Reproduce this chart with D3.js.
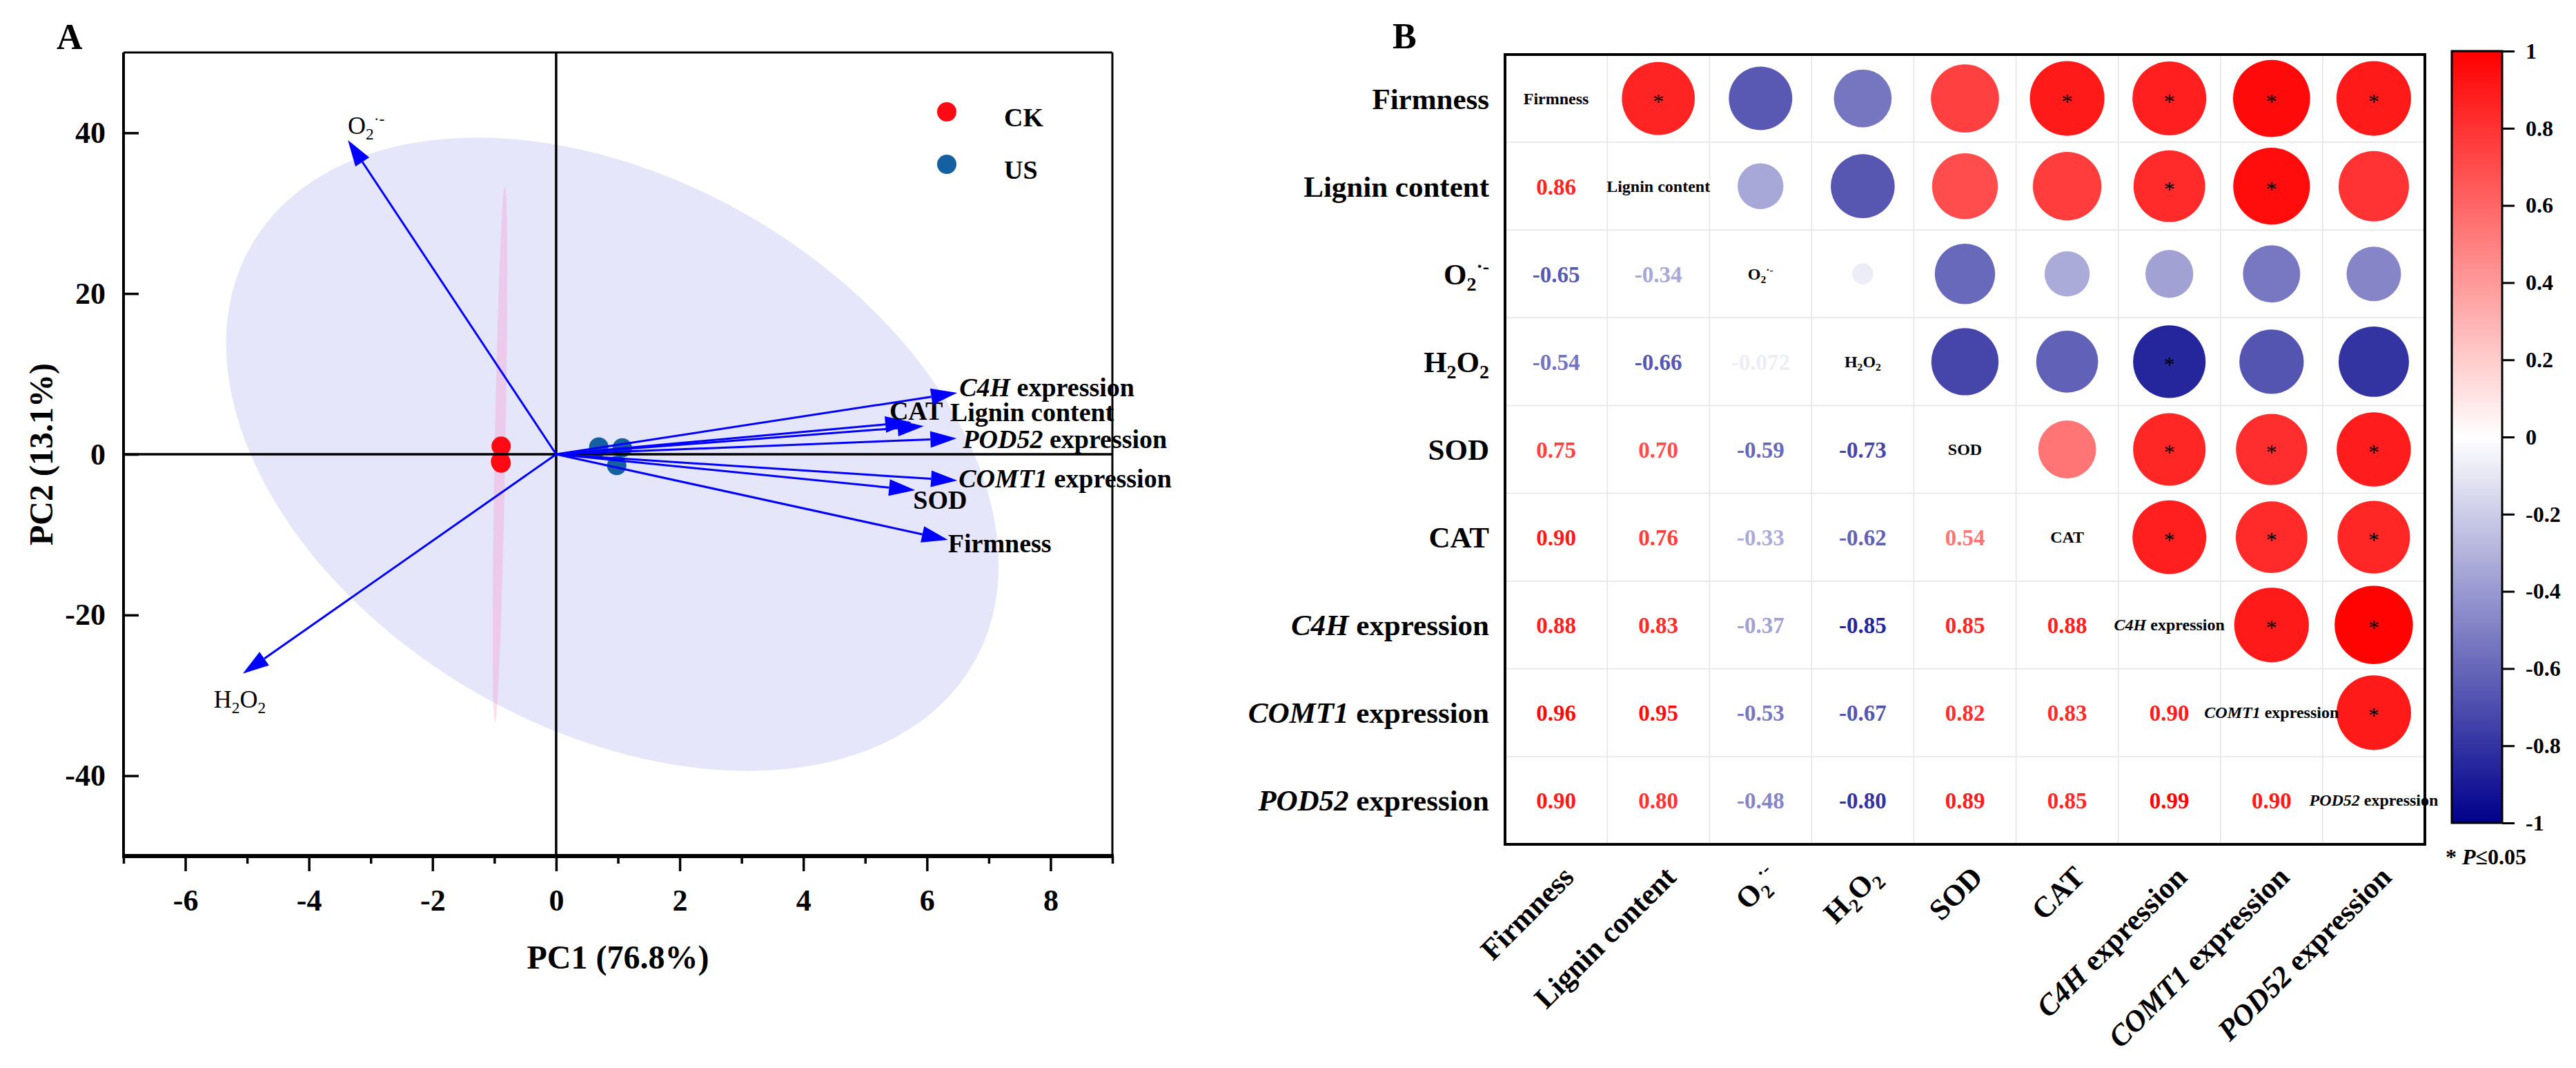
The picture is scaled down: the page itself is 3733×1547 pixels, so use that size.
<!DOCTYPE html>
<html lang="en">
<head>
<meta charset="UTF-8">
<title>PCA biplot and correlation matrix</title>
<script src="https://d3js.org/d3.v7.min.js"></script>
<style>
  body { margin: 0; background: #fff; }
  svg text { font-family: "Liberation Serif", "Times New Roman", serif; font-weight: bold; fill: #000; }
</style>
</head>
<body>
<svg id="chart" width="3733" height="1547"></svg>
<script>
// ---------- Panel A data (PCA) ----------
const groups = ["CK", "US"];
const ckScores = [[-0.89, 1.0], [-0.89, -1.1], [-0.90, -0.9]];
const usScores = [[0.69, 0.9], [1.07, 0.8], [0.98, -1.4]];

const loadingNames = ["Firmness", "Lignin content", "O2", "H2O2", "SOD", "CAT", "C4H", "COMT1", "POD52"];
const loadingPC1 = [6.34, 5.95, -3.37, -5.07, 5.81, 5.75, 6.49, 6.49, 6.48];
const loadingPC2 = [-10.66, 3.5, 39.1, -27.3, -4.47, 4.0, 7.65, -3.27, 1.98];

// confidence ellipses: centre, half extents and correlation
const usEllipse = { cx: 0.91, cy: 0, sx: 6.25, sy: 39.4, rho: -0.35 };
const ckEllipse = { cx: -0.91, cy: 0, sx: 0.117, sy: 33.3, rho: 0.68 };

const xMajor = [-6, -4, -2, 0, 2, 4, 6, 8];
const xMinor = [-7, -5, -3, -1, 1, 3, 5, 7, 9];
const yMajor = [-40, -20, 0, 20, 40];

// ---------- Panel B data (correlations) ----------
const variables = ["Firmness", "Lignin content", "O2", "H2O2", "SOD", "CAT", "C4H", "COMT1", "POD52"];
const corrLower = [
  [],
  [0.86],
  [-0.65, -0.34],
  [-0.54, -0.66, -0.072],
  [0.75, 0.70, -0.59, -0.73],
  [0.90, 0.76, -0.33, -0.62, 0.54],
  [0.88, 0.83, -0.37, -0.85, 0.85, 0.88],
  [0.96, 0.95, -0.53, -0.67, 0.82, 0.83, 0.90],
  [0.90, 0.80, -0.48, -0.80, 0.89, 0.85, 0.99, 0.90]
];
// significant pairs (row, column) in the upper triangle
const significant = [[0,1],[0,5],[0,6],[0,7],[0,8],[1,6],[1,7],[3,6],[4,6],[4,7],[4,8],[5,6],[5,7],[5,8],[6,7],[6,8],[7,8]];
const legendTicks = [1, 0.8, 0.6, 0.4, 0.2, 0, -0.2, -0.4, -0.6, -0.8, -1];

// ---------- styles / layout ----------
const groupColors = { CK: "#ff0a14", US: "#1460a0" };
const arrowColor = "#0000ff";
const labelNudge = {
  "Firmness": [0, 18], "Lignin content": [38, -7], "O2": [0, -9], "H2O2": [-42, 49],
  "SOD": [-3, 27], "CAT": [-32, -3], "C4H": [3, 5], "COMT1": [2, 10], "POD52": [9, 14]
};
const labelParts = {
  "O2": [["O"], ["2", "sub"], ["\u00b7-", "sup"]],
  "H2O2": [["H"], ["2", "sub"], ["O"], ["2", "sub"]],
  "C4H": [["C4H", "i"], [" expression"]],
  "COMT1": [["COMT1", "i"], [" expression"]],
  "POD52": [["POD52", "i"], [" expression"]]
};

// writes a label with italics / sub / superscripts into a text element
function rich(textSel, key, size) {
  const parts = labelParts[key] || [[key]];
  let shift = 0;
  parts.forEach(([t, kind]) => {
    const ts = textSel.append("tspan").text(t);
    let target = 0;
    if (kind === "sub") { ts.attr("font-size", size * 0.65); target = size * 0.22; }
    if (kind === "sup") { ts.attr("font-size", size * 0.65); target = -size * 0.38; }
    if (kind === "i") ts.attr("font-style", "italic");
    ts.attr("dy", target - shift);
    shift = target;
  });
}

const svg = d3.select("#chart");

// =====================  Panel A  =====================
const A = { left: 179, right: 1612, top: 76, bottom: 1240 };
const x = d3.scaleLinear().domain([-7, 9]).range([A.left, A.right]);
const y = d3.scaleLinear().domain([-50, 50]).range([A.bottom, A.top]);

function ellipsePoints(e) {
  const k = Math.sqrt(1 - e.rho * e.rho);
  return d3.range(0, 360, 2).map(deg => {
    const t = deg * Math.PI / 180;
    return [e.cx + e.sx * Math.cos(t), e.cy + e.sy * (e.rho * Math.cos(t) + k * Math.sin(t))];
  });
}
const ellLine = d3.line().x(d => x(d[0])).y(d => y(d[1])).curve(d3.curveLinearClosed);

const gA = svg.append("g");
gA.append("path").attr("d", ellLine(ellipsePoints(usEllipse))).attr("fill", "#e6e6fa");
gA.append("path").attr("d", ellLine(ellipsePoints(ckEllipse))).attr("fill", "#ff5ab4").attr("fill-opacity", 0.2);

// sample scores
gA.selectAll(".ck").data(ckScores).join("circle")
  .attr("cx", d => x(d[0])).attr("cy", d => y(d[1])).attr("r", 14).attr("fill", groupColors.CK);
gA.selectAll(".us").data(usScores).join("circle")
  .attr("cx", d => x(d[0])).attr("cy", d => y(d[1])).attr("r", 14).attr("fill", groupColors.US);

// zero lines
gA.append("line").attr("x1", x(0)).attr("x2", x(0)).attr("y1", A.top).attr("y2", A.bottom)
  .attr("stroke", "#000").attr("stroke-width", 3.5);
gA.append("line").attr("x1", A.left).attr("x2", A.right).attr("y1", y(0)).attr("y2", y(0))
  .attr("stroke", "#000").attr("stroke-width", 3.5);

// loading arrows
loadingNames.forEach((name, i) => {
  const x0 = x(0), y0 = y(0), x1 = x(loadingPC1[i]), y1 = y(loadingPC2[i]);
  const ang = Math.atan2(y1 - y0, x1 - x0);
  const hl = 38, hw = 12;
  const bx0 = x1 - hl * Math.cos(ang), by0 = y1 - hl * Math.sin(ang);
  gA.append("line").attr("x1", x0).attr("y1", y0).attr("x2", bx0).attr("y2", by0)
    .attr("stroke", arrowColor).attr("stroke-width", 3);
  const pts = [[x1, y1],
    [bx0 + hw * Math.sin(ang), by0 - hw * Math.cos(ang)],
    [bx0 - hw * Math.sin(ang), by0 + hw * Math.cos(ang)]];
  gA.append("polygon").attr("points", pts.map(p => p.join(",")).join(" ")).attr("fill", arrowColor);

  const nd = labelNudge[name];
  const small = name === "O2" || name === "H2O2";
  const size = small ? 36 : 38;
  const t = gA.append("text").attr("x", x1 + nd[0]).attr("y", y1 + nd[1])
    .attr("font-size", size).style("font-weight", small ? "normal" : "bold");
  rich(t, name, size);
});

// frame
gA.append("line").attr("x1", A.left).attr("x2", A.right).attr("y1", A.top).attr("y2", A.top).attr("stroke", "#000").attr("stroke-width", 3);
gA.append("line").attr("x1", A.right).attr("x2", A.right).attr("y1", A.top).attr("y2", A.bottom).attr("stroke", "#000").attr("stroke-width", 3);
gA.append("line").attr("x1", A.left).attr("x2", A.left).attr("y1", A.top).attr("y2", A.bottom).attr("stroke", "#000").attr("stroke-width", 4);

// axes
const xAxis = gA.append("g").attr("transform", `translate(0,${A.bottom})`)
  .call(d3.axisBottom(x).tickValues(xMajor).tickSize(22).tickPadding(26).tickFormat(d => String(d)));
const xMinorAxis = gA.append("g").attr("transform", `translate(0,${A.bottom})`)
  .call(d3.axisBottom(x).tickValues(xMinor).tickSize(11).tickFormat(""));
const yAxis = gA.append("g").attr("transform", `translate(${A.left},0)`)
  .call(d3.axisLeft(y).tickValues(yMajor).tickSizeInner(-22).tickSizeOuter(0).tickPadding(26).tickFormat(d => String(d)));
[xAxis, xMinorAxis, yAxis].forEach(g => {
  g.select(".domain").remove();
  g.selectAll(".tick line").attr("stroke", "#000").attr("stroke-width", 3.5);
  g.selectAll(".tick text").attr("font-size", 44).attr("font-family", "Liberation Serif").attr("font-weight", "bold").attr("fill", "#000");
});
gA.append("line").attr("x1", A.left - 2).attr("x2", A.right + 2).attr("y1", A.bottom).attr("y2", A.bottom)
  .attr("stroke", "#000").attr("stroke-width", 6);

// titles
gA.append("text").attr("x", (A.left + A.right) / 2).attr("y", 1403).attr("text-anchor", "middle")
  .attr("font-size", 48).text("PC1 (76.8%)");
gA.append("text").attr("transform", `translate(76,${(A.top + A.bottom) / 2}) rotate(-90)`)
  .attr("text-anchor", "middle").attr("font-size", 48).text("PC2 (13.1%)");
gA.append("text").attr("x", 82).attr("y", 71).attr("font-size", 52).text("A");

// legend
groups.forEach((g, i) => {
  gA.append("circle").attr("cx", 1372).attr("cy", 162 + i * 76).attr("r", 14).attr("fill", groupColors[g]);
  gA.append("text").attr("x", 1455).attr("y", 183 + i * 76).attr("font-size", 38).text(g);
});

// =====================  Panel B  =====================
const M = { left: 2181, right: 3514, top: 79, bottom: 1223 };
const n = variables.length;
const bx = d3.scaleBand().domain(d3.range(n)).range([M.left, M.right]);
const by = d3.scaleBand().domain(d3.range(n)).range([M.top, M.bottom]);
const color = d3.scaleLinear().domain([-1, 0, 1]).range(["#00008b", "#ffffff", "#ff0000"]);
const rScale = d3.scaleSqrt().domain([0, 1]).range([0, 57]);
const corr = (i, j) => i > j ? corrLower[i][j] : corrLower[j][i];
const isSig = (i, j) => significant.some(p => p[0] === i && p[1] === j);
const fmt = v => Math.abs(v) < 0.1 ? v.toFixed(3) : v.toFixed(2);

const gB = svg.append("g");
// grid
d3.range(1, n).forEach(k => {
  gB.append("line").attr("x1", bx(k)).attr("x2", bx(k)).attr("y1", M.top).attr("y2", M.bottom)
    .attr("stroke", "#e4e4e4").attr("stroke-width", 1.5);
  gB.append("line").attr("x1", M.left).attr("x2", M.right).attr("y1", by(k)).attr("y2", by(k))
    .attr("stroke", "#e4e4e4").attr("stroke-width", 1.5);
});

const cells = [];
d3.range(n).forEach(i => d3.range(n).forEach(j => cells.push({ i, j })));
const cw = bx.bandwidth(), ch = by.bandwidth();

// upper triangle: circles
gB.selectAll(".cc").data(cells.filter(c => c.j > c.i)).join("circle")
  .attr("cx", c => bx(c.j) + cw / 2).attr("cy", c => by(c.i) + ch / 2)
  .attr("r", c => rScale(Math.abs(corr(c.i, c.j))))
  .attr("fill", c => color(corr(c.i, c.j)));
gB.selectAll(".star").data(cells.filter(c => c.j > c.i && isSig(c.i, c.j))).join("text")
  .attr("x", c => bx(c.j) + cw / 2).attr("y", c => by(c.i) + ch / 2 + 15)
  .attr("text-anchor", "middle").attr("font-size", 32).style("font-weight", "normal").text("*");

// lower triangle: numbers
gB.selectAll(".num").data(cells.filter(c => c.i > c.j)).join("text")
  .attr("x", c => bx(c.j) + cw / 2).attr("y", c => by(c.i) + ch / 2 + 12)
  .attr("text-anchor", "middle").attr("font-size", 33)
  .style("fill", c => color(corr(c.i, c.j))).text(c => fmt(corr(c.i, c.j)));

// diagonal labels
variables.forEach((v, i) => {
  const t = gB.append("text").attr("x", bx(i) + cw / 2).attr("y", by(i) + ch / 2 + 8)
    .attr("text-anchor", "middle").attr("font-size", 24);
  rich(t, v, 24);
});

// row labels
variables.forEach((v, i) => {
  const t = gB.append("text").attr("x", M.left - 23).attr("y", by(i) + ch / 2 + 15)
    .attr("text-anchor", "end").attr("font-size", 43);
  rich(t, v, 43);
});
// column labels
variables.forEach((v, j) => {
  const t = gB.append("text")
    .attr("transform", `translate(${bx(j) + cw / 2 + 28},${M.bottom + 50}) rotate(-45)`)
    .attr("text-anchor", "end").attr("font-size", 43);
  rich(t, v, 43);
});

gB.append("rect").attr("x", M.left).attr("y", M.top).attr("width", M.right - M.left).attr("height", M.bottom - M.top)
  .attr("fill", "none").attr("stroke", "#000").attr("stroke-width", 4);
gB.append("text").attr("x", 2018).attr("y", 70).attr("font-size", 52).text("B");

// colour bar
const cb = d3.scaleLinear().domain([-1, 1]).range([1192, 74]);
const grad = svg.append("defs").append("linearGradient").attr("id", "cbar")
  .attr("x1", 0).attr("y1", 1).attr("x2", 0).attr("y2", 0);
d3.range(-1, 1.001, 0.1).forEach(v => {
  grad.append("stop").attr("offset", (v + 1) / 2).attr("stop-color", color(Math.max(-1, Math.min(1, v))));
});
gB.append("rect").attr("x", 3553).attr("y", cb(1)).attr("width", 73).attr("height", cb(-1) - cb(1))
  .attr("fill", "url(#cbar)").attr("stroke", "#000").attr("stroke-width", 3);
const cAxis = gB.append("g").attr("transform", "translate(3626,0)")
  .call(d3.axisRight(cb).tickValues(legendTicks).tickSize(18).tickPadding(16).tickFormat(d => String(d)));
cAxis.select(".domain").remove();
cAxis.selectAll(".tick line").attr("stroke", "#000").attr("stroke-width", 3);
cAxis.selectAll(".tick text").attr("font-size", 32).attr("font-family", "Liberation Serif").attr("font-weight", "bold").attr("fill", "#000");

const note = gB.append("text").attr("x", 3544).attr("y", 1252).attr("font-size", 32);
note.append("tspan").text("* ");
note.append("tspan").attr("font-style", "italic").text("P");
note.append("tspan").text("\u22640.05");
</script>
</body>
</html>
